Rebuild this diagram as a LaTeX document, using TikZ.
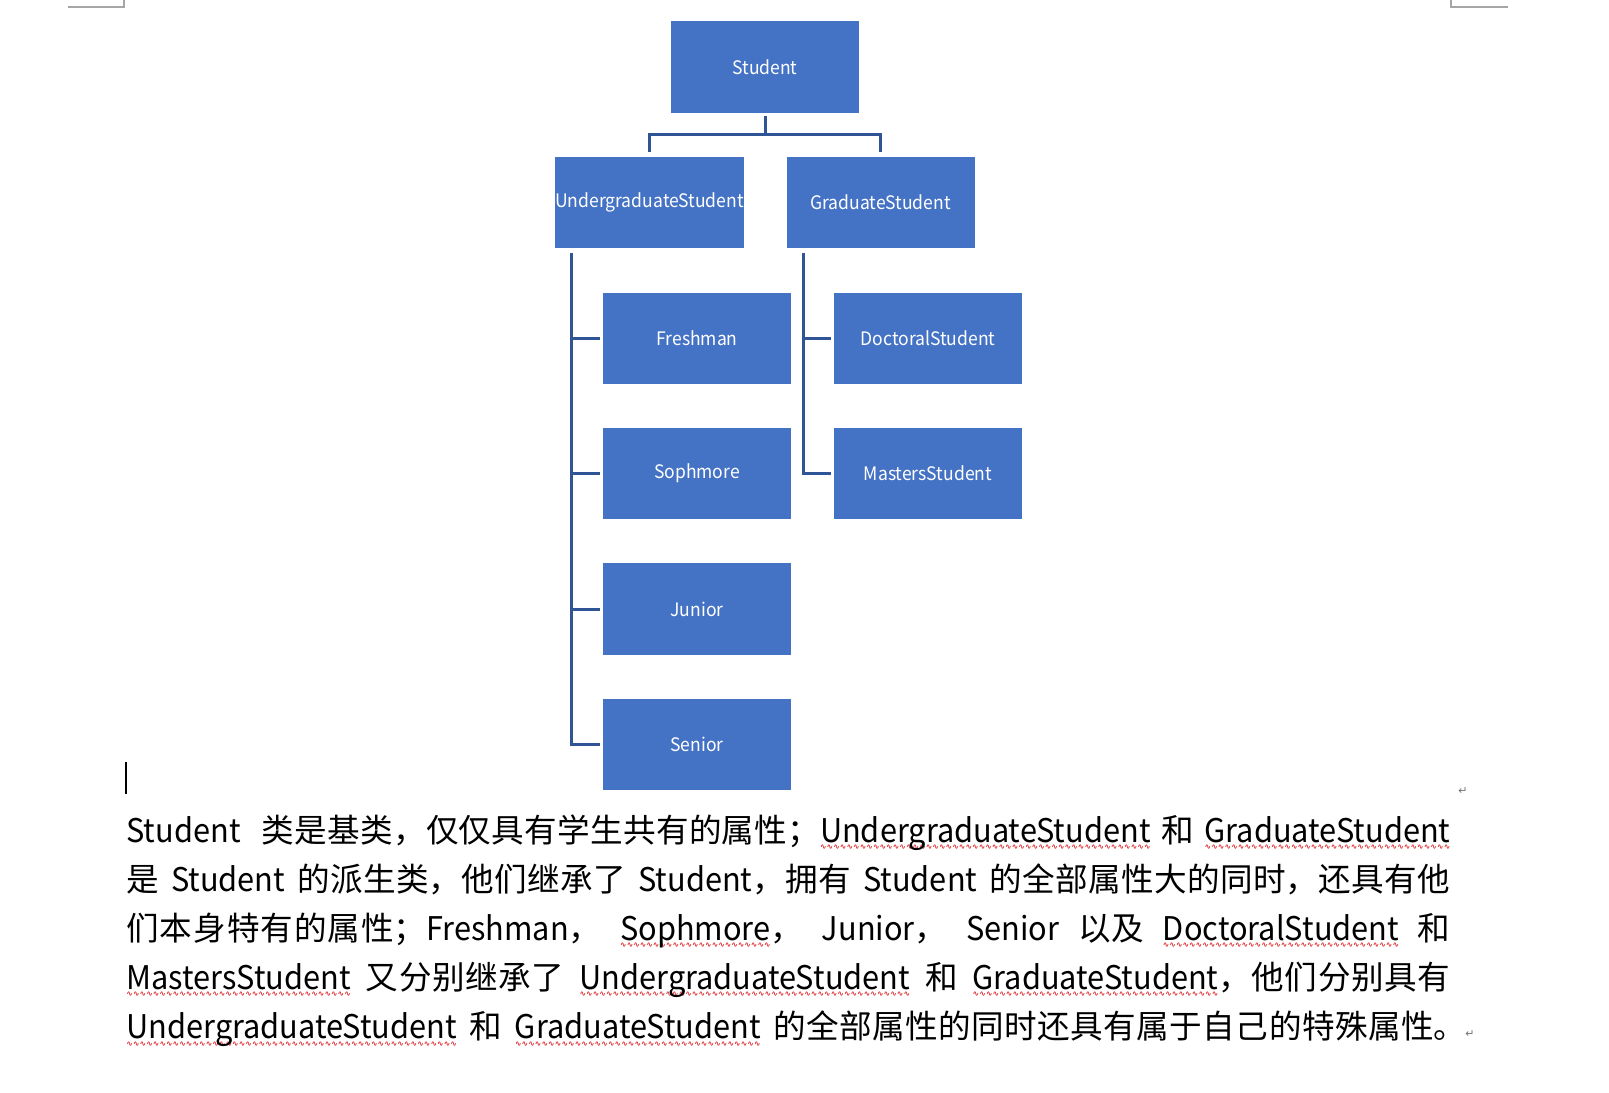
\documentclass[tikz,border=0pt]{standalone}
\usepackage{fontspec}
\newfontfamily\cjk{Noto Sans CJK SC}
\newfontfamily\latn[FakeStretch=0.943]{Noto Sans CJK SC}
\newfontfamily\dejavu{DejaVu Sans}
\definecolor{boxblue}{HTML}{4472C4}
\definecolor{connblue}{HTML}{2F5597}
\definecolor{wavered}{HTML}{E0282C}
\definecolor{markgray}{HTML}{A6A6A6}
\newsavebox\rwbox
\newcommand\rw[1]{\sbox\rwbox{#1}\rlap{\lower3.6pt\hbox to\wd\rwbox{\xleaders\hbox{\dejavu\bfseries\fontsize{3.9}{3.9}\selectfont\textcolor{wavered}{∿}}\hfill}}\usebox\rwbox}
\newcommand\lt[1]{{\latn #1}}
\newcommand\rwl[1]{\rw{\lt{#1}}}
\XeTeXlinebreaklocale "zh"
\XeTeXlinebreakskip=0pt plus 0.15pt
\tikzset{
  cls/.style={draw=none, fill=boxblue, text=white, inner sep=0pt,
    minimum width=94pt, minimum height=45.75pt,
    font=\latn\fontsize{9.3}{11}\selectfont},
  conn/.style={draw=connblue, line width=1.5pt},
  crop/.style={draw=markgray, line width=0.6pt},
  pmark/.style={text=black!55, font=\dejavu\fontsize{5.5}{6}\selectfont, inner sep=0pt},
}
\begin{document}
\begin{tikzpicture}[x=0.5pt,y=-0.5pt]
\useasboundingbox[fill=white] (0,0) rectangle (1609,1092);
% crop marks
\draw[crop] (68,7) -- (124,7) -- (124,0);
\draw[crop] (1451,0) -- (1451,7) -- (1508,7);
% boxes
\node[cls] (S)   at (765,67)    {Student};
\node[cls] (UGS) at (649.5,202.5) {UndergraduateStudent};
\node[cls] (GS)  at (880.5,202.5) {GraduateStudent};
\node[cls] (F)   at (697,338.5)  {Freshman};
\node[cls] (So)  at (697,473.5)  {Sophmore};
\node[cls] (J)   at (697,609)    {Junior};
\node[cls] (Se)  at (697,744.5)  {Senior};
\node[cls] (D)   at (928,338.5)  {DoctoralStudent};
\node[cls] (M)   at (928,473.5)  {MastersStudent};
% connectors top level
\coordinate (jn) at ([yshift=-10.5pt]S.south);
\draw[conn] ([yshift=-1.5pt]S.south) -- (jn);
\draw[conn] ([yshift=2pt]UGS.north) |- (jn) -| ([yshift=2pt]GS.north);
% undergraduate subtree
\coordinate (ut) at ([xshift=8.5pt,yshift=-2pt]UGS.south west);
\draw[conn] (ut) |- ([xshift=-1.5pt]Se.west);
\draw[conn] (ut |- F.west) -- ([xshift=-1.5pt]F.west);
\draw[conn] (ut |- So.west) -- ([xshift=-1.5pt]So.west);
\draw[conn] (ut |- J.west) -- ([xshift=-1.5pt]J.west);
% graduate subtree
\coordinate (gt) at ([xshift=8.5pt,yshift=-2pt]GS.south west);
\draw[conn] (gt) |- ([xshift=-1.5pt]M.west);
\draw[conn] (gt |- D.west) -- ([xshift=-1.5pt]D.west);
% text cursor
\draw[black, line width=0.6pt] (126,762) -- (126,794);
% paragraph marks
\node[pmark] (pm1) at (1463,791) {↵};
\node[pmark] (pm2) at (1470,1034) {↵};
% body text
\node[anchor=base west, inner sep=0pt, text width=662pt, align=justify,
      font=\cjk\fontsize{16.3}{24.6}\selectfont] (body) at (126,842) {%
\parfillskip=0pt
\lt{Student}\ \ 类是基类，仅仅具有学生共有的属性；\rwl{UndergraduateStudent} 和 \rwl{GraduateStudent}\linebreak
是 \lt{Student} 的派生类，他们继承了 \lt{Student}，拥有 \lt{Student} 的全部属性大的同时，还具有他\linebreak
们本身特有的属性；\lt{Freshman}， \rwl{Sophmore}， \lt{Junior}， \lt{Senior} 以及 \rwl{DoctoralStudent} 和\linebreak
\rwl{MastersStudent} 又分别继承了 \rwl{UndergraduateStudent} 和 \rwl{GraduateStudent}，他们分别具有\linebreak
\rwl{UndergraduateStudent} 和 \rwl{GraduateStudent} 的全部属性的同时还具有属于自己的特殊属性。\kern-8pt\par};
\end{tikzpicture}
\end{document}
